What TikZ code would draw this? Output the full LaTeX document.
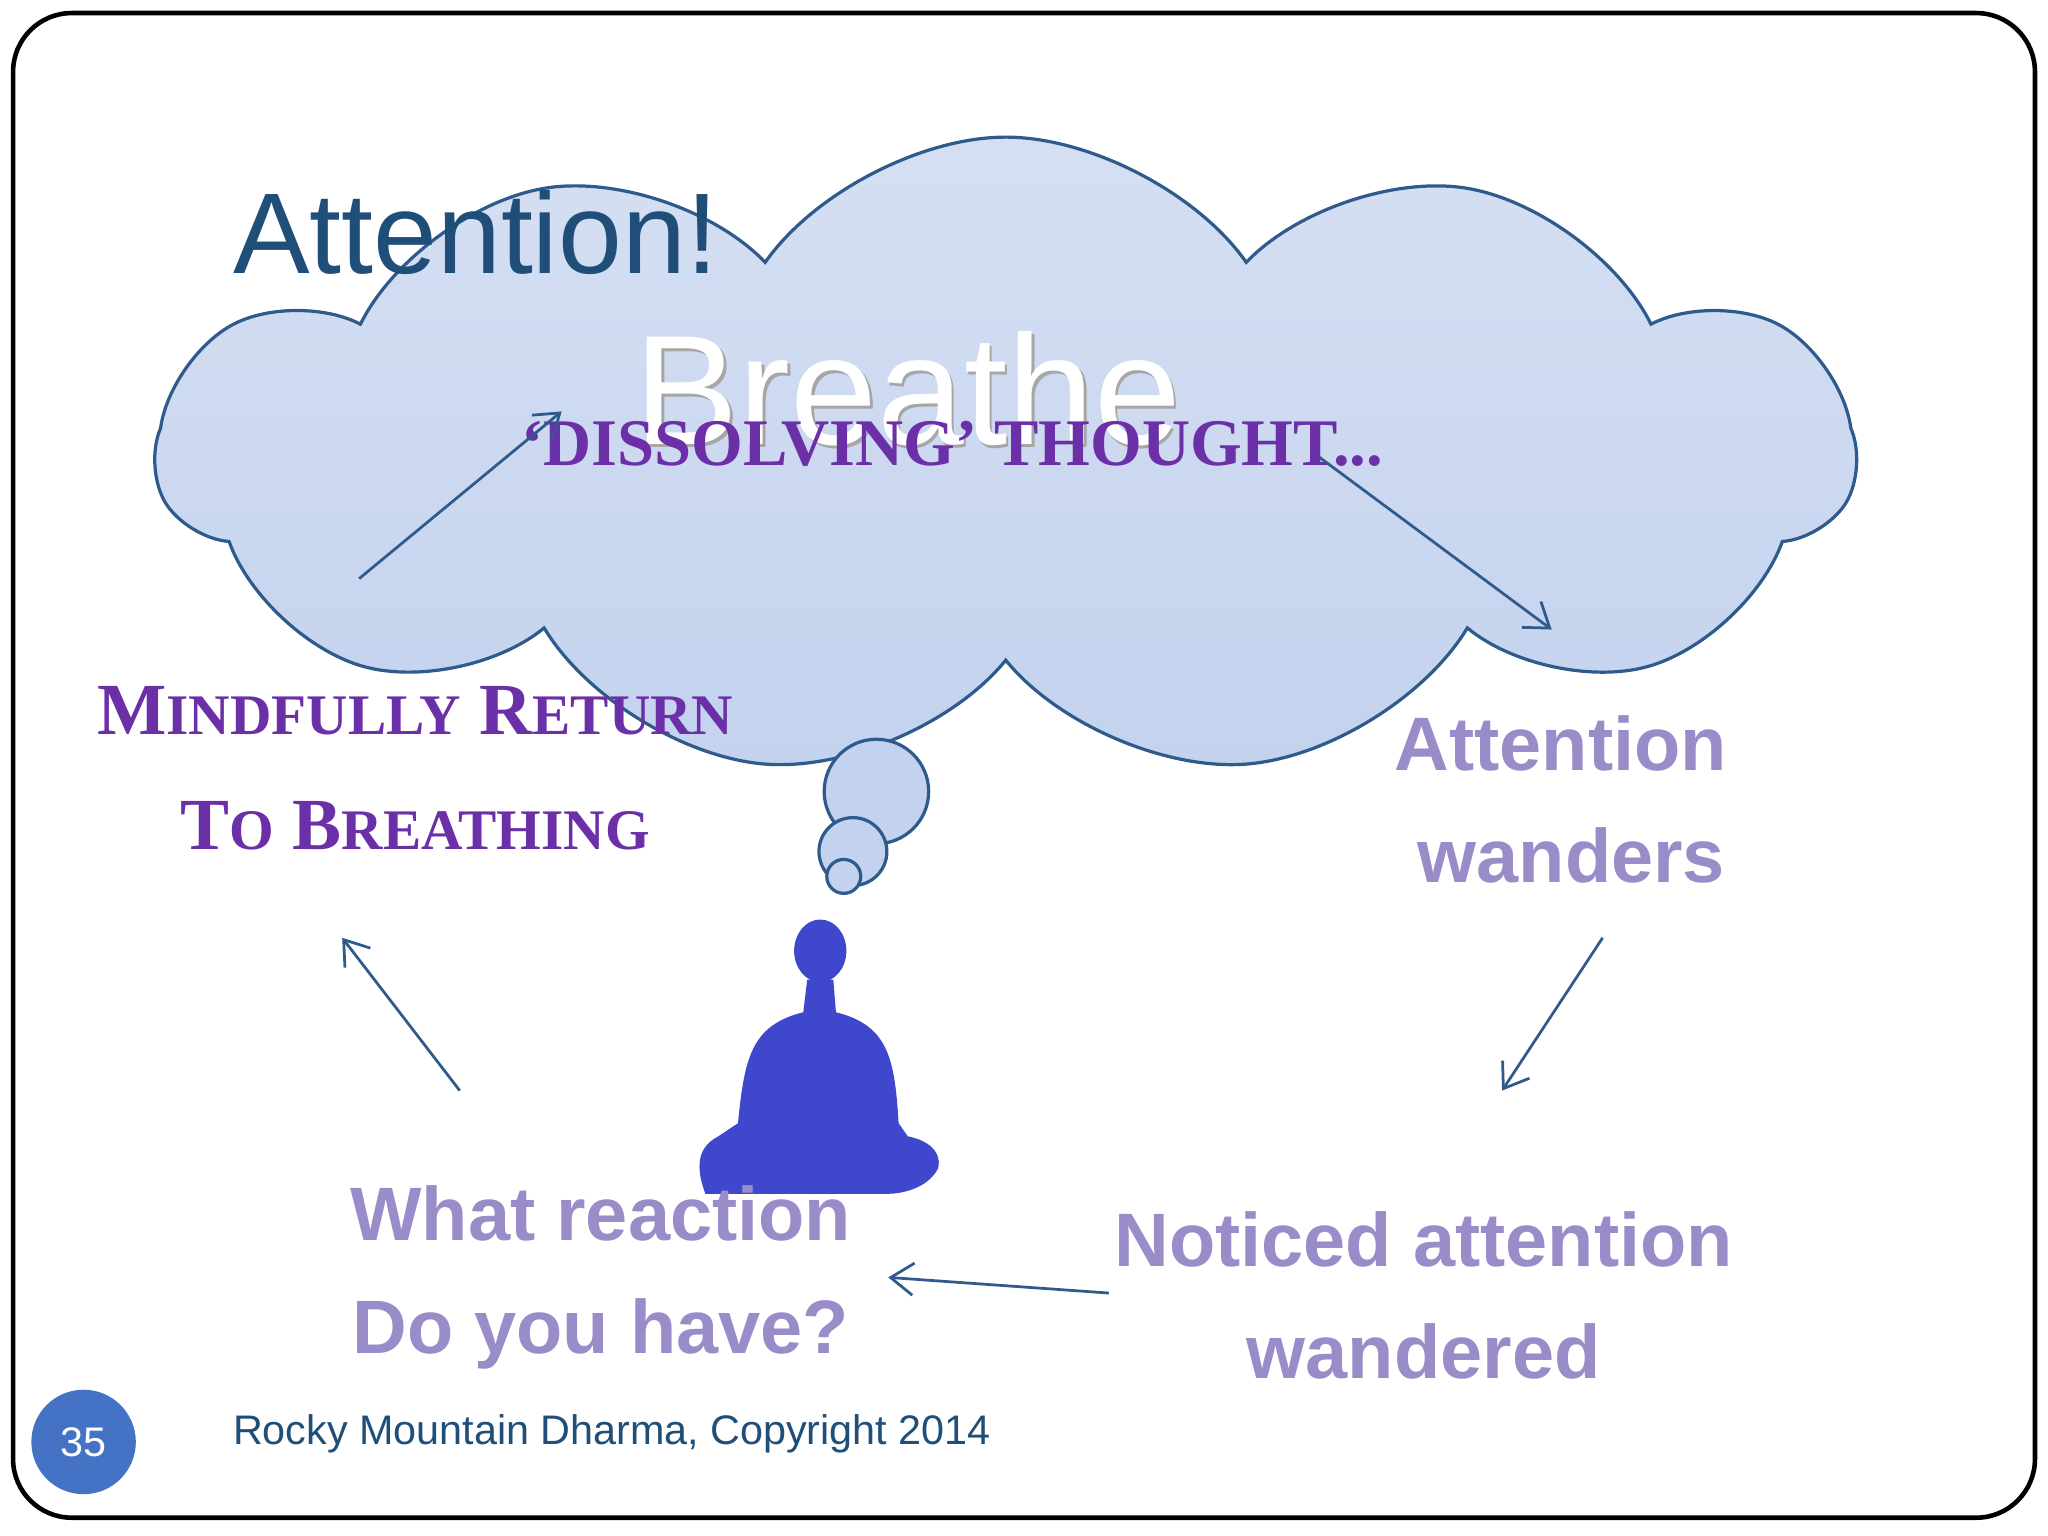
\documentclass[tikz,border=0pt]{standalone}
\usepackage{fontspec}
\setmainfont{Liberation Sans}
\newfontfamily\serifx{Liberation Serif}
\usetikzlibrary{shapes.symbols,arrows.meta}
\definecolor{navy}{HTML}{1F4E79}
\definecolor{cloudfill}{HTML}{C3D2EE}
\definecolor{cloudedge}{HTML}{2E5A8C}
\definecolor{purp}{HTML}{6B2FA8}
\definecolor{lav}{HTML}{9A8CC8}
\definecolor{medit}{HTML}{3F48CC}
\definecolor{badge}{HTML}{4472C4}
\newcommand{\bigsc}[2]{{\fontsize{16}{24}\selectfont #1}{\fontsize{12.5}{24}\selectfont #2}}
\tikzset{
  conn/.style={-{Straight Barb[length=5pt,width=7pt]},draw=cloudedge,line width=0.6pt},
  lavtext/.style={text=lav,font=\bfseries\fontsize{16.5}{24.5}\selectfont,align=center},
  purptext/.style={text=purp,font=\serifx\bfseries\fontsize{16}{25}\selectfont,align=center},
}
\begin{document}
\begin{tikzpicture}[x=1cm,y=-1cm]
\useasboundingbox (0,0) rectangle (15.68,11.76);
\draw[rounded corners=0.45cm,line width=1pt] (0.1,0.1) rectangle (15.58,11.62);
% cloud
\node[cloud,cloud puffs=11,cloud puff arc=110,aspect=2.6,minimum width=13.0cm,minimum height=4.9cm,
  top color=cloudfill!70,bottom color=cloudfill,draw=cloudedge,line width=0.7pt] (cl) at (7.7,3.5) {};
\draw[cloudedge,fill=cloudfill,line width=0.7pt] (6.71,6.06) circle (0.40);
\draw[cloudedge,fill=cloudfill,line width=0.7pt] (6.53,6.52) circle (0.26);
\draw[cloudedge,fill=cloudfill,line width=0.7pt] (6.46,6.71) circle (0.13);
% title
\node[text=navy,font=\fontsize{25}{30}\selectfont,anchor=west] (title) at (1.66,1.78) {Attention!};
\node[text=gray!70,font=\fontsize{34}{38}\selectfont] (brs) at (6.97,3.0) {Breathe};
\node[text=white,font=\fontsize{34}{38}\selectfont] (br) at (6.95,2.98) {Breathe};
\node[text=purp,font=\serifx\bfseries\fontsize{14.5}{16}\selectfont] (diss) at (7.29,3.4) {‘DISSOLVING’ THOUGHT...};
% figure
\fill[medit] (6.28,7.28) ellipse (0.2 and 0.24);
\fill[medit] (6.18,7.5) -- (6.38,7.5) -- (6.4,7.75) .. controls (6.8,7.85) and (6.85,8.1) .. (6.88,8.6)
  -- (6.95,8.7) .. controls (7.2,8.75) and (7.2,8.9) .. (7.18,8.95)
  .. controls (7.1,9.1) and (6.9,9.14) .. (6.8,9.14) -- (5.4,9.14)
  .. controls (5.35,9.0) and (5.3,8.8) .. (5.5,8.7) -- (5.65,8.6)
  .. controls (5.7,8.1) and (5.75,7.85) .. (6.15,7.75) -- cycle;
% labels
\node[purptext] (mind) at (3.18,5.88) {\bigsc{M}{INDFULLY} \bigsc{R}{ETURN}\\\bigsc{T}{O} \bigsc{B}{REATHING}};
\node[lavtext] (wand) at (11.95,6.12) {Attention\\ \ wanders};
\node[lavtext] (noti) at (10.9,9.92) {Noticed attention\\wandered};
\node[lavtext] (react) at (4.6,9.78) {What reaction\\Do you have?};
% arrows
\coordinate (a1) at (2.75,4.43); \coordinate (b1) at (4.3,3.15);
\coordinate (a2) at (10.1,3.5); \coordinate (b2) at (11.88,4.82);
\coordinate (a3) at (12.27,7.18); \coordinate (b3) at (11.5,8.35);
\coordinate (a4) at (8.49,9.9); \coordinate (b4) at (6.8,9.78);
\coordinate (a5) at (3.52,8.35); \coordinate (b5) at (2.62,7.18);
\draw[conn] (a1)--(b1); \draw[conn] (a2)--(b2); \draw[conn] (a3)--(b3);
\draw[conn] (a4)--(b4); \draw[conn] (a5)--(b5);
% footer
\node[circle,fill=badge,minimum size=0.8cm,text=white,font=\fontsize{9}{11}\selectfont] (num) at (0.64,11.04) {35};
\node[text=navy,font=\fontsize{9}{11}\selectfont,anchor=west] (foot) at (1.66,10.98) {Rocky Mountain Dharma, Copyright 2014};
\end{tikzpicture}
\end{document}
